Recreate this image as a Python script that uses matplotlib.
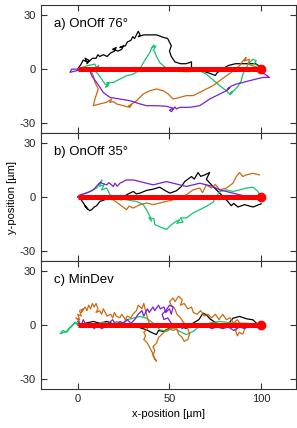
import matplotlib
matplotlib.use("Agg")
import matplotlib.pyplot as plt

plt.rcParams["font.family"] = ["Liberation Sans", "DejaVu Sans"]
plt.rcParams["axes.unicode_minus"] = False

# 颜色
c_black = "#000000"
c_green = "#14c46e"
c_orange = "#cc6a12"
c_purple = "#7a1fd4"
c_red = "#ff0000"

# ===== a) OnOff 76° =====
a_black_x = [0, 2, 3, 5, 4, 6, 5, 8, 10, 11, 12, 14, 16, 18, 20, 21, 19, 22, 24, 25, 23, 26, 27, 29, 30, 31,
             32, 33, 34, 33, 36, 39, 43, 47, 49, 51, 50, 51, 53, 56, 59, 62, 62, 66, 71, 75, 76, 79, 82, 86,
             92, 97, 100]
a_black_y = [0, 3, 5, 4, 6, 5, 3, 6, 6, 8, 7, 8, 7, 9, 10, 12, 11, 10, 11, 13, 12, 13, 15, 16, 18, 17,
             19, 21, 19, 18, 19, 19, 19, 17.5, 17, 13, 10, 7, 4, 3, 3, 4, 1, -0.4, -2, -3.5, -2, 0, 2, 3,
             3, 3, 1]
a_green_x = [0, 4.9, 9.4, 10.7, 10.0, 11.5, 9.8, 11.2, 13.0, 14.9, 16.7, 15.2, 17.0, 15.8, 19.4, 23.0, 26.6,
             30.3, 33.9, 34.8, 36.1, 37.5, 39.3, 40.2, 41.5, 40.5, 42.6, 41.2, 42.0, 42.9, 44.7, 47.0, 49.3,
             53.8, 59.2, 66.5, 70.1, 73.7, 77.4, 81.0, 82.8, 84.2, 83.0, 84.6, 87.3, 89.1, 90.0, 91.8, 93.7,
             95.5, 97.3, 96.0, 98.2, 100]
a_green_y = [0, 1.8, 2.8, -0.4, 0.9, 2.0, -1.5, -2.8, -5.5, -8.3, -9.2, -10.0, -8.0, -7.7, -7.4, -5.5, -3.7,
             -2.8, -0.4, 1.8, 4.1, 6.4, 9.2, 11.4, 13.3, 12.0, 12.8, 10.5, 9.6, 7.0, 3.7, 1.5, 0,
             -0.9, -1.5, -0.9, -2.8, -5.9, -9.2, -12.0, -13.8, -12.2, -14.2, -12.5, -9.6, -6.4, -2.8, 0.9, 3.7,
             5.5, 4.6, 3.0, 1.8, 0.4]
a_orange_x = [0, 6.7, 8.5, 9.4, 11.2, 10.3, 9.4, 8.5, 12.1, 15.8, 18.5, 17.5, 19.4, 21.2, 24.8, 28.4, 29.3,
              27.8, 32.1, 35.7, 39.3, 42.9, 46.6, 49.3, 51.1, 52.0, 55.6, 59.2, 62.9, 66.5, 70.1, 73.7, 77.4,
              81.0, 83.7, 85.5, 88.2, 90.0, 91.8, 90.8, 93.7, 92.8, 95.5, 98.2, 100]
a_orange_y = [0, 0, -3.7, -7.4, -11.0, -13.8, -16.6, -20.3, -19.3, -18.4, -16.6, -18.5, -18.0, -19.3, -20.3,
              -21.2, -19.9, -20.5, -17.5, -13.8, -12.0, -11.0, -12.0, -13.8, -15.7, -16.6, -15.7, -14.7,
              -14.7, -12.9, -11.0, -9.2, -6.4, -3.7, -1.8, 0, 1.8, 4.6, 6.4, 4.5, 5.5, 2.8, 1.8, 0.9, 0]
a_purple_x = [0, -3.3, -4.2, 1.3, 6.7, 7.6, 10.3, 12.1, 13.9, 17.6, 23.0, 28.4, 33.9, 37.5, 42.9, 48.4, 52.0,
              50.0, 51.1, 53.0, 53.8, 55.6, 61.1, 66.5, 71.9, 77.4, 81.0, 82.8, 81.5, 83.5, 86.4, 90.0, 93.7,
              97.3, 100.9, 104.5, 102.7, 100.9, 100]
a_purple_y = [0, 0, -1.8, -0.4, -0.9, -3.7, -7.4, -10.1, -12.9, -15.7, -16.6, -17.5, -19.3, -20.3, -20.3,
              -20.6, -21.7, -22.8, -23.6, -21.0, -22.1, -21.2, -21.2, -20.3, -16.6, -13.8, -12.0, -10.1,
              -11.5, -9.5, -8.3, -7.4, -6.4, -5.5, -4.6, -4.6, -3.3, -2.2, -0.4]

# ===== b) OnOff 35° =====
b_black_x = [0, 1.3, 3.1, 5.3, 4.0, 6.5, 7.6, 9.0, 10.3, 12.1, 15.8, 20.3, 23.9, 26.6, 30.3, 32.0, 33.9,
             37.5, 41.1, 44.7, 47.5, 50.2, 53.8, 56.5, 58.3, 62.0, 63.5, 65.6, 67.0, 69.2, 71.9, 70.1, 73.7,
             77.4, 81.0, 83.7, 85.0, 87.3, 90.9, 95.5, 100]
b_black_y = [0, -0.6, -3.3, -6.6, -5.0, -7.5, -7.0, -5.5, -4.8, -2.4, -1.1, -0.6, -1.5, 1.3, 3.1, 1.8, 2.2,
             3.7, 4.4, 5.5, 3.7, 2.2, 3.5, 5.9, 8.6, 11.4, 10.0, 13.6, 11.5, 12.3, 13.6, 9.9, 5.9,
             2.2, -1.5, -4.8, -3.5, -5.5, -4.2, -5.5, -3.7]
b_green_x = [0, 1.3, 4.0, 6.7, 10.3, 12.1, 13.2, 12.0, 14.3, 13.0, 15.8, 17.6, 21.2, 26.6, 32.1, 35.7, 37.5,
             39.3, 40.2, 38.8, 41.5, 42.0, 44.7, 48.4, 50.2, 52.9, 55.6, 54.0, 57.4, 56.0, 59.2, 62.9, 66.5,
             70.1, 73.7, 75.5, 77.4, 81.0, 84.6, 88.2, 91.8, 95.5, 98.2, 100]
b_green_y = [0, 0.4, 2.2, 3.1, 5.0, 7.7, 9.5, 6.0, 6.8, 4.0, 5.0, 1.3, -0.6, -1.5, -2.4, -4.2, -7.0,
             -10.6, -13.4, -11.5, -12.0, -15.2, -16.5, -18.0, -16.1, -13.9, -12.5, -14.5, -13.9, -11.5, -11.6,
             -8.8, -7.0, -5.1, -2.9, 0.4, 3.1, 4.0, 3.1, 4.0, 5.0, 5.5, 3.1, 0.4]
b_orange_x = [0, 1.3, 4.9, 10.3, 13.9, 19.4, 23.0, 26.6, 28.0, 30.3, 33.9, 37.5, 41.1, 44.7, 48.4, 52.0, 55.6,
              59.2, 62.9, 66.5, 68.0, 70.1, 72.8, 75.0, 77.4, 81.0, 84.6, 86.4, 88.2, 90.0, 91.8, 95.5, 99.1]
b_orange_y = [0, -0.6, 0.4, 0.4, -0.6, -1.5, -4.2, -7.0, -5.0, -6.1, -4.2, -3.3, -4.2, -3.3, -2.4, -1.5, -0.6,
              1.3, 4.0, 5.0, 2.5, 6.8, 5.0, 7.0, 4.0, 5.0, 7.7, 11.4, 13.6, 11.4, 12.3, 13.2, 12.3]
b_purple_x = [0, 1.3, 4.9, 8.5, 12.1, 15.8, 17.0, 19.4, 20.3, 21.5, 23.0, 26.6, 30.3, 33.9, 37.5, 41.1, 44.7,
              48.4, 52.0, 55.6, 59.2, 62.9, 66.5, 70.1, 73.7, 77.4, 81.0, 84.6, 88.2, 91.8]
b_purple_y = [0, 1.3, 2.2, 4.0, 8.1, 6.8, 8.0, 5.9, 7.7, 6.0, 7.7, 9.5, 9.5, 8.6, 7.7, 6.8, 7.7,
              8.6, 7.7, 6.8, 5.9, 6.8, 7.7, 6.8, 5.9, 4.0, 3.1, 2.2, 1.3, 0.4]

# ===== c) MinDev =====
c_green_x = [0, -1.4, -3.3, -6.0, -9.6, -8.0, -6.0, -4.5, -3.3, -1.4, 1.3, 4.9, 7.0, 10.3, 13.0, 15.8, 18.0,
             21.2, 24.0, 26.6, 30.3, 33.9, 37.5, 41.1, 44.7, 48.4, 52.0, 55.6, 59.2, 62.9, 66.5, 71.9, 77.4,
             84.6, 91.8, 97.3]
c_green_y = [0, 1.5, -0.7, -3.5, -4.8, -3.0, -4.0, -1.5, -0.7, 1.5, 0.2, -0.7, 1.0, 0.2, 1.5, 1.1, 0.0,
             2.0, 0.8, 2.9, 3.8, 4.8, 3.8, 1.1, -2.6, -3.5, -1.6, -3.5, -5.3, -3.5, -0.7, 1.1, 2.0,
             1.1, 1.1, 0.2]
c_orange_x = [0, 1, -1, 1, 0, 2, 1, 3, 2, 4, 5, 6, 7, 8, 9, 10, 11, 10, 12, 13, 14, 15, 16, 18, 19, 20, 21,
              23, 24, 26, 27, 29, 30, 32, 33, 35, 36, 37, 38, 39, 38, 36, 37, 36, 38, 39, 40, 41, 42, 43, 41,
              42, 41, 43, 44, 46, 48, 50, 52, 54, 55, 57, 58, 60, 61, 60, 58, 56, 54, 53, 51, 50, 52, 53, 55,
              57, 56, 58, 60, 62, 63, 65, 67, 69, 71, 73, 75, 77, 79, 81, 83, 85, 87, 89, 91, 90, 88, 87, 86,
              88, 91, 94, 97, 100]
c_orange_y = [0, 2, 4, 3, 6, 5, 8, 9, 7, 10, 8, 11, 9, 12, 10, 12, 9, 7, 8, 6, 9, 7, 5, 6, 4, 7, 5,
              4, 6, 3, 5, 4, 6, 8, 11, 9, 12, 8, 4, 1, -2, -4, -6, -8, -10, -12, -14, -16, -19, -20, -17,
              -14, -12, -10, -7, -5, -3, -2, -3, -2, -5, -7, -9, -8, -5, -2, 1, 4, 6, 9, 11, 13, 15, 13, 16,
              14, 11, 12, 9, 10, 7, 6, 8, 5, 6, 4, 6, 3, 6, 3, 4, 1, 3, 0, -2, -5, -4, -6, -3,
              -1, 0, -1, 1, 0]
c_purple_x = [0, 2, 3, 5, 7, 9, 11, 13, 15, 17, 19, 21, 23, 25, 27, 29, 31, 33, 35, 36, 38, 39, 41, 42, 44,
              45, 47, 48, 50, 51, 52, 50, 48, 46, 47, 49, 51, 53, 55, 57, 59, 62, 64, 67, 70, 73, 76, 79,
              82, 85, 88, 91, 94, 97, 100]
c_purple_y = [2, 0, 3, -1, 1, -2, 0, -2, -1, 1, 3, 0, 2, 1, 3, 1, 3, 6, 8, 5, 9, 7, 10, 8, 11,
              9, 10, 7, 9, 6, 10, 11, 8, 6, 3, 4, 1, -1, 0, -2, 0, -1, 1, -1, 0, -2, -1, -2,
              -1, -3, -1, -2, 0, -1, 0]
c_black_x = [0, 1.3, 5.0, 8.5, 12.0, 15.8, 19.0, 23.0, 27.0, 30.3, 34.0, 37.5, 40.0, 42.9, 44.0, 46.6, 50.2,
             55.6, 59.0, 62.9, 66.0, 68.3, 70.1, 72.0, 75.5, 78.0, 81.0, 84.6, 88.2, 92.0, 95.5, 97.3, 99.1]
c_black_y = [0, 0.2, 1.2, 2.0, 1.0, 2.0, 0.8, 1.1, -0.5, 0.2, -1.5, -2.6, -4.0, -5.3, -3.0, -3.5, -1.6,
             -0.7, -1.8, 1.1, 3.0, 6.6, 5.7, 3.5, 1.1, 0.0, -0.7, 3.8, 4.8, 3.5, 2.9, 1.1, 0.2]

# 理想路径
ideal_x = [0, 100]
ideal_y = [0, 0]

panels = [
    ("a) OnOff 76°", [(a_black_x, a_black_y, c_black), (a_green_x, a_green_y, c_green),
                      (a_orange_x, a_orange_y, c_orange), (a_purple_x, a_purple_y, c_purple)]),
    ("b) OnOff 35°", [(b_black_x, b_black_y, c_black), (b_green_x, b_green_y, c_green),
                      (b_orange_x, b_orange_y, c_orange), (b_purple_x, b_purple_y, c_purple)]),
    ("c) MinDev", [(c_black_x, c_black_y, c_black), (c_green_x, c_green_y, c_green),
                   (c_orange_x, c_orange_y, c_orange), (c_purple_x, c_purple_y, c_purple)]),
]

fig, axes = plt.subplots(3, 1, figsize=(2.97, 4.28), dpi=100, sharex=True)
fig.subplots_adjust(left=0.138, right=0.997, top=0.988, bottom=0.091, hspace=0)

for ax, (label, tracks) in zip(axes, panels):
    for tx, ty, col in tracks:
        ax.plot(tx, ty, color=col, lw=0.9)
    ax.plot(ideal_x, ideal_y, color=c_red, lw=3.6, solid_capstyle="butt")
    ax.plot(ideal_x[-1:], ideal_y[-1:], "o", color=c_red, ms=6)
    ax.set_xlim(-20, 119)
    ax.set_ylim(-35.5, 35.5)
    ax.set_yticks([-30, 0, 30])
    ax.set_xticks([0, 50, 100])
    ax.tick_params(direction="in", top=True, right=True, length=4, width=0.8,
                   labelsize=8, colors="#333333", labelcolor="#222222")
    for s in ax.spines.values():
        s.set_color("#333333")
        s.set_linewidth(0.8)
    ax.text(0.05, 0.85, label, transform=ax.transAxes, fontsize=9.5, va="center", ha="left")

axes[1].set_ylabel("y-position [µm]", fontsize=8, labelpad=2)
axes[2].set_xlabel("x-position [µm]", fontsize=8)

fig.savefig("out.png", dpi=100)
